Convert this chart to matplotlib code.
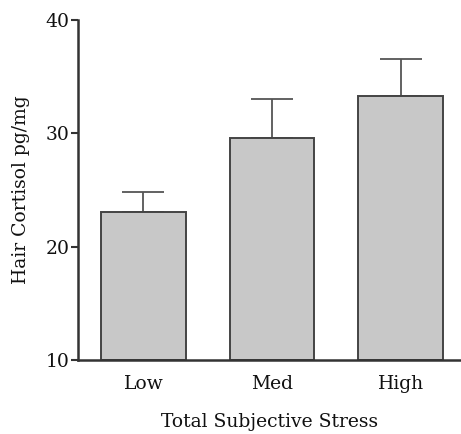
import matplotlib.pyplot as plt

groups = ["Low", "Med", "High"]
cortisol = [23.1, 29.6, 33.3]
err_upper = [1.7, 3.4, 3.3]

plt.rcParams["font.family"] = ["DejaVu Serif"]

fig = plt.figure(figsize=(4.61, 4.34), dpi=100)
ax = fig.add_axes([0.169, 0.1705, 0.831, 0.7834])

x = range(len(groups))
ax.bar(x, [c - 10 for c in cortisol], bottom=10, width=0.66, color="#c8c8c8",
       edgecolor="#444444", linewidth=1.4, zorder=2)
ax.errorbar(x, cortisol, yerr=[[0] * 3, err_upper], fmt="none", ecolor="#555555",
            elinewidth=1.3, capsize=15, capthick=1.3, zorder=1)

ax.set_xlim(-0.51, 2.47)
ax.set_ylim(10, 40)
ax.set_yticks([10, 20, 30, 40])
ax.set_xticks(list(x))
ax.set_xticklabels(groups)
ax.spines["top"].set_visible(False)
ax.spines["right"].set_visible(False)
for s in ["left", "bottom"]:
    ax.spines[s].set_linewidth(1.8)
    ax.spines[s].set_color("#333333")
ax.tick_params(axis="y", length=5, width=1.5, labelsize=13.5, colors="#333333",
               labelcolor="#111111", pad=1)
ax.tick_params(axis="x", length=0, labelsize=13.5, pad=11, labelcolor="#111111")
ax.set_ylabel("Hair Cortisol pg/mg", fontsize=13.5, labelpad=11, color="#111111")
ax.set_xlabel("Total Subjective Stress", fontsize=13.5, labelpad=14, color="#111111")

fig.savefig("out.png", dpi=100)
